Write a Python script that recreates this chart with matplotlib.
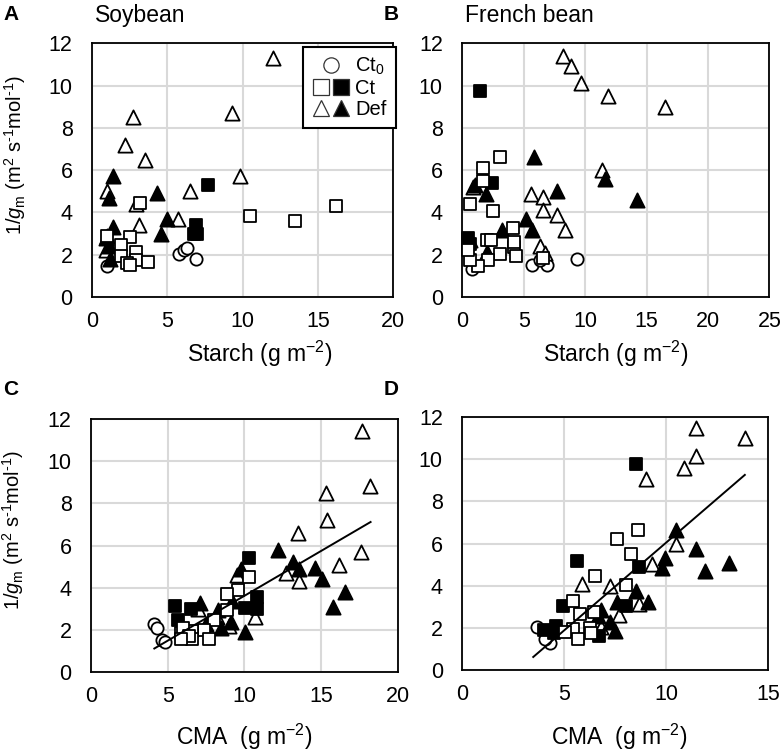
"""
Soybean / French bean: 1/gm vs leaf starch and CMA (four-panel scatter).
Output: out.png
"""

import matplotlib
matplotlib.use("Agg")
import matplotlib.pyplot as plt
from matplotlib.lines import Line2D
from matplotlib.legend_handler import HandlerTuple

plt.rcParams["font.family"] = ["Liberation Sans", "DejaVu Sans"]
plt.rcParams["mathtext.fontset"] = "custom"
plt.rcParams["mathtext.rm"] = "Liberation Sans"
plt.rcParams["mathtext.it"] = "Liberation Sans:italic"

# ── Data ────────────────────────────────────────────────────

# A: Soybean, starch
a_ct0_x = [1.0, 5.8, 6.1, 6.3, 6.9]
a_ct0_y = [1.45, 2.05, 2.2, 2.3, 1.8]
a_ct_open_x = [16.2, 10.5, 13.5, 3.2, 2.5, 1.9, 1.9, 2.9, 2.9, 3.7, 2.3, 2.5, 1.0]
a_ct_open_y = [4.3, 3.85, 3.6, 4.45, 2.85, 2.45, 1.95, 2.15, 1.75, 1.65, 1.6, 1.5, 2.9]
a_ct_fill_x = [7.7, 6.9, 7.0, 6.8]
a_ct_fill_y = [5.3, 3.4, 3.0, 3.0]
a_def_open_x = [12.0, 9.3, 2.7, 2.2, 3.5, 9.8, 6.5, 5.7, 3.1, 1.0, 2.9, 1.0, 0.9]
a_def_open_y = [11.3, 8.7, 8.5, 7.2, 6.5, 5.7, 5.0, 3.7, 3.4, 5.0, 4.4, 2.9, 2.2]
a_def_fill_x = [1.4, 1.1, 4.3, 5.0, 4.6, 1.4, 1.1, 1.2, 0.9]
a_def_fill_y = [5.7, 4.7, 4.9, 3.7, 3.0, 3.3, 2.4, 1.8, 2.8]

# B: French bean, starch
b_ct0_x = [9.3, 5.7, 6.9, 0.8, 6.3]
b_ct0_y = [1.8, 1.5, 1.5, 1.3, 1.75]
b_ct_open_x = [3.1, 1.7, 1.7, 0.6, 2.5, 4.1, 2.0, 4.2, 3.1, 4.4, 2.1, 1.3, 0.6, 0.5, 6.55, 2.3, 4.2]
b_ct_open_y = [6.6, 6.1, 5.5, 4.4, 4.05, 3.25, 2.7, 2.35, 2.05, 1.95, 1.75, 1.45, 1.75, 2.2, 1.85, 2.7, 2.6]
b_ct_fill_x = [1.45, 2.4, 0.45, 0.6]
b_ct_fill_y = [9.75, 5.4, 2.8, 2.5]
b_def_open_x = [8.2, 8.85, 9.7, 11.9, 16.5, 11.4, 5.6, 6.6, 6.6, 7.7, 8.4, 6.3, 6.7, 0.9]
b_def_open_y = [11.4, 10.9, 10.1, 9.5, 9.0, 6.0, 4.85, 4.75, 4.1, 3.9, 3.15, 2.4, 2.1, 5.2]
b_def_fill_x = [5.8, 11.6, 14.2, 7.7, 1.9, 1.0, 5.15, 5.7, 3.2, 2.0, 0.6]
b_def_fill_y = [6.6, 5.6, 4.6, 5.0, 4.85, 5.3, 3.7, 3.15, 3.15, 2.15, 2.7]

# C: Soybean, CMA
c_ct0_x = [4.1, 4.3, 4.6, 4.8]
c_ct0_y = [2.3, 2.1, 1.55, 1.45]
c_ct_open_x = [10.3, 9.6, 8.85, 8.85, 8.0, 7.4, 6.6, 5.9, 6.6, 7.7, 6.0, 6.4, 5.9]
c_ct_open_y = [4.5, 3.9, 3.7, 2.95, 2.5, 2.0, 1.95, 1.85, 1.6, 1.6, 2.1, 1.7, 1.6]
c_ct_fill_x = [10.3, 10.85, 10.85, 10.05, 5.5, 5.7, 6.5]
c_ct_fill_y = [5.4, 3.55, 3.0, 3.05, 3.15, 2.5, 3.0]
c_def_open_x = [17.7, 18.2, 15.3, 15.4, 13.5, 17.6, 16.2, 13.6, 9.5, 10.7, 12.7, 7.0, 8.2, 9.0]
c_def_open_y = [11.4, 8.8, 8.5, 7.2, 6.6, 5.7, 5.1, 4.3, 4.6, 2.6, 4.7, 3.0, 2.6, 2.2]
c_def_fill_x = [12.2, 13.2, 13.6, 14.6, 15.1, 16.6, 15.8, 10.05, 9.1, 7.1, 8.3, 9.8, 9.2, 7.5, 8.5]
c_def_fill_y = [5.8, 5.2, 4.9, 4.95, 4.4, 3.8, 3.1, 1.9, 2.4, 3.3, 2.95, 4.9, 3.4, 2.3, 2.1]
c_fit = (0.424, -0.62)       # slope, intercept
c_fit_x = [4.13, 18.24]

# D: French bean, CMA
d_ct0_x = [3.65, 4.3, 4.05]
d_ct0_y = [2.05, 1.3, 1.5]
d_ct_open_x = [8.6, 7.6, 8.3, 6.5, 8.05, 5.45, 6.45, 5.75, 6.25, 5.45, 5.05, 5.7, 6.3]
d_ct_open_y = [6.65, 6.2, 5.5, 4.45, 4.05, 3.3, 2.75, 2.65, 2.0, 1.95, 1.8, 1.5, 1.75]
d_ct_fill_x = [8.5, 8.65, 5.65, 4.95, 4.0, 4.5, 8.05, 6.7, 4.6]
d_ct_fill_y = [9.8, 4.9, 5.2, 3.05, 1.9, 1.75, 3.05, 1.6, 2.1]
d_def_open_x = [11.45, 13.85, 11.45, 10.9, 9.0, 10.5, 5.85, 7.25, 8.65, 9.3, 7.7, 6.8]
d_def_open_y = [11.5, 11.0, 10.15, 9.6, 9.05, 6.0, 4.1, 4.0, 3.15, 5.05, 2.6, 2.05]
d_def_fill_x = [10.5, 11.45, 13.1, 11.9, 9.95, 9.8, 8.5, 9.1, 7.6, 6.8, 7.25, 7.5, 6.65]
d_def_fill_y = [6.65, 5.75, 5.1, 4.7, 5.3, 4.85, 3.75, 3.25, 3.25, 2.85, 2.3, 1.85, 2.55]
d_fit = (0.832, -2.27)
d_fit_x = [3.48, 13.86]

y_ticks = [0, 2, 4, 6, 8, 10, 12]
# hyphen (not minus) in the superscripts, as in the original
YLABEL = r"1/$g_{\rm m}$ (m$^2$ s$^{\text{-}1}$mol$^{\text{-}1}$)"

# ── Drawing helpers ─────────────────────────────────────────

LW = 1.3
FS = 16.5
TICK_FS = 15.5


def draw_points(ax, ct0, ct_open, ct_fill, def_open, def_fill):
    kw = dict(edgecolors="black", linewidths=LW, zorder=3, clip_on=False)
    ax.scatter(*ct0, marker="o", s=78, facecolors="white", **kw)
    ax.scatter(*def_open, marker="^", s=105, facecolors="white", **kw)
    ax.scatter(*def_fill, marker="^", s=105, facecolors="black", **kw)
    ax.scatter(*ct_fill, marker="s", s=85, facecolors="black", **kw)
    ax.scatter(*ct_open, marker="s", s=85, facecolors="white", **kw)


def style_axes(ax, xmax, xstep):
    ax.set_xlim(0, xmax)
    ax.set_ylim(0, 12)
    ax.set_xticks(range(0, xmax + 1, xstep))
    ax.set_yticks(y_ticks)
    ax.grid(True, color="#d9d9d9", linewidth=1.5)
    ax.set_axisbelow(True)
    for sp in ax.spines.values():
        sp.set_linewidth(1.3)
    ax.tick_params(length=0, labelsize=TICK_FS)
    ax.tick_params(axis="x", pad=10)
    ax.tick_params(axis="y", pad=14)


fig = plt.figure(figsize=(7.8, 7.53), dpi=100)
ax_a = fig.add_axes([0.118, 0.6056, 0.386, 0.337])
ax_b = fig.add_axes([0.5927, 0.6056, 0.3936, 0.337])
ax_c = fig.add_axes([0.1167, 0.107, 0.393, 0.337])
ax_d = fig.add_axes([0.5927, 0.110, 0.392, 0.336])

draw_points(ax_a, (a_ct0_x, a_ct0_y), (a_ct_open_x, a_ct_open_y), (a_ct_fill_x, a_ct_fill_y),
            (a_def_open_x, a_def_open_y), (a_def_fill_x, a_def_fill_y))
draw_points(ax_b, (b_ct0_x, b_ct0_y), (b_ct_open_x, b_ct_open_y), (b_ct_fill_x, b_ct_fill_y),
            (b_def_open_x, b_def_open_y), (b_def_fill_x, b_def_fill_y))
draw_points(ax_c, (c_ct0_x, c_ct0_y), (c_ct_open_x, c_ct_open_y), (c_ct_fill_x, c_ct_fill_y),
            (c_def_open_x, c_def_open_y), (c_def_fill_x, c_def_fill_y))
draw_points(ax_d, (d_ct0_x, d_ct0_y), (d_ct_open_x, d_ct_open_y), (d_ct_fill_x, d_ct_fill_y),
            (d_def_open_x, d_def_open_y), (d_def_fill_x, d_def_fill_y))

# regression lines
for ax, (m, b), xs in [(ax_c, c_fit, c_fit_x), (ax_d, d_fit, d_fit_x)]:
    ax.plot(xs, [m * x + b for x in xs], color="black", linewidth=1.4, zorder=4)

style_axes(ax_a, 20, 5)
style_axes(ax_b, 25, 5)
style_axes(ax_c, 20, 5)
style_axes(ax_d, 15, 5)

# labels
ax_a.set_xlabel(r"Starch (g m$^{-2}$)", fontsize=FS)
ax_b.set_xlabel(r"Starch (g m$^{-2}$)", fontsize=FS)
ax_c.set_xlabel(r"CMA  (g m$^{-2}$)", fontsize=FS)
ax_d.set_xlabel(r"CMA  (g m$^{-2}$)", fontsize=FS)
ax_a.xaxis.set_label_coords(0.558, -0.165)
ax_b.xaxis.set_label_coords(0.50, -0.165)
ax_c.xaxis.set_label_coords(0.50, -0.196)
ax_d.xaxis.set_label_coords(0.513, -0.206)

ax_a.set_ylabel(YLABEL, fontsize=14.5)
ax_c.set_ylabel(YLABEL, fontsize=14.5)
ax_a.yaxis.set_label_coords(-0.212, 0.56)
ax_c.yaxis.set_label_coords(-0.212, 0.56)

ax_a.text(0.01, 1.083, "Soybean", transform=ax_a.transAxes, fontsize=FS, va="baseline")
ax_b.text(0.01, 1.083, "French bean", transform=ax_b.transAxes, fontsize=FS, va="baseline")

for letter, x, y in [("A", 0.004, 0.994), ("B", 0.492, 0.994), ("C", 0.004, 0.496), ("D", 0.492, 0.496)]:
    fig.text(x, y, letter, fontsize=15, fontweight="bold", va="top")

# legend (panel A)
mk = dict(linestyle="none", markeredgecolor="#333333", markeredgewidth=0.9, markersize=11)
h_ct0 = Line2D([], [], marker="o", markerfacecolor="white", **mk)
h_ct_o = Line2D([], [], marker="s", markerfacecolor="white", **mk)
h_ct_f = Line2D([], [], marker="s", markerfacecolor="black", **mk)
h_df_o = Line2D([], [], marker="^", markerfacecolor="white", **mk)
h_df_f = Line2D([], [], marker="^", markerfacecolor="black", **mk)
leg = ax_a.legend([(h_ct0,), (h_ct_o, h_ct_f), (h_df_o, h_df_f)],
                  [r"Ct$_0$", "Ct", "Def"],
                  handler_map={tuple: HandlerTuple(ndivide=None, pad=0.1)},
                  loc="upper right", bbox_to_anchor=(1.008, 0.985), borderaxespad=0,
                  fontsize=14.5, fancybox=False, edgecolor="black", framealpha=1,
                  handlelength=1.9, handletextpad=0.25, labelspacing=0.1,
                  borderpad=0.45)
leg.get_frame().set_linewidth(1.5)
leg.set_zorder(5)

plt.savefig("out.png", dpi=100)
plt.close()
